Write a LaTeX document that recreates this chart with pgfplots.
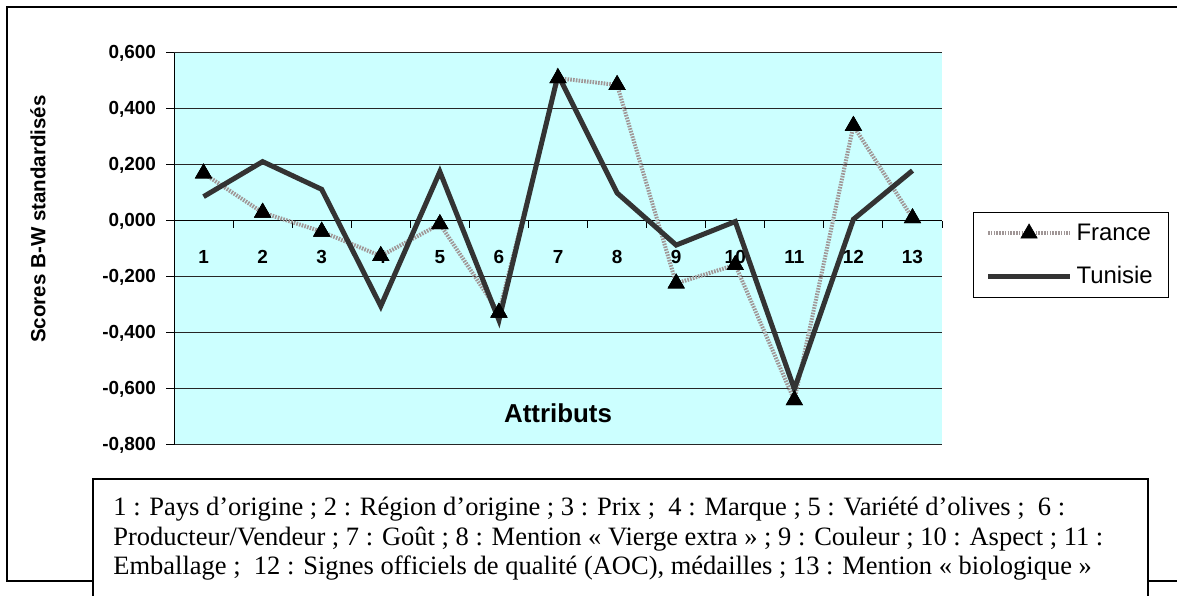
\documentclass[border=0pt]{standalone}
\usepackage{fontspec}
\setmainfont{Liberation Sans}
\newfontfamily\timesfont{Liberation Serif}
\usepackage{pgfplots}
\pgfplotsset{compat=1.18}
\definecolor{plotbg}{RGB}{204,255,255}
\definecolor{tun}{RGB}{51,51,51}
\definecolor{fra}{RGB}{160,150,150}
\begin{document}
\begin{tikzpicture}[x=0.5bp,y=0.5bp]
\path[use as bounding box] (0,0) rectangle (1177,595);
\draw[line width=0.75bp] (1177,588) -- (7,588) -- (7,14) -- (1177,14);
\node[rotate=90,font=\bfseries\fontsize{10.3}{12}\selectfont] at (38,376) {Scores B-W standardisés};
\begin{axis}[at={(87bp,75bp)}, anchor=south west, width=384bp, height=196bp, scale only axis,
 xmin=0.5, xmax=13.5, ymin=-0.8, ymax=0.6,
 axis x line=middle, axis y line=left,
 axis line style={-, black, line width=0.5bp},
 axis background/.style={fill=plotbg},
 tick align=outside,
 xtick={1,...,13},
 xticklabels={1,2,3,4,5,6,7,8,9,10,11,12,13},
 minor xtick={1.5,2.5,...,13.5},
 major x tick style={draw=none},
 minor x tick style={black, line width=0.5bp},
 minor tick length=3.5bp,
 major tick length=4bp,
 xticklabel style={font=\bfseries\fontsize{9.5}{11}\selectfont, yshift=-7bp},
 ytick={-0.8,-0.6,-0.4,-0.2,0,0.2,0.4,0.6},
 yticklabels={{-0,800},{-0,600},{-0,400},{-0,200},{0,000},{0,200},{0,400},{0,600}},
 yticklabel style={font=\bfseries\fontsize{9.5}{11}\selectfont, xshift=-1.5bp},
 ytick style={black, line width=0.5bp},
 ymajorgrids, grid style={black!85, line width=0.5bp},
 legend style={at={(1.0404,0.594)}, anchor=north west, draw=black, line width=0.5bp,
   font=\fontsize{12}{13}\selectfont, inner xsep=6bp, inner ysep=3.5bp, row sep=7.5bp},
 legend cell align=left,
 legend image code/.code={\draw[mark repeat=2,mark phase=2,#1] plot coordinates {(0bp,0bp) (20.5bp,0bp) (41bp,0bp)};},
 clip=false,
]
\addplot[fra, line width=2bp, dash pattern=on 0.8bp off 0.6bp, mark=triangle*, mark size=4.7bp,
  mark options={solid, fill=black, draw=black, line width=0.3bp}]
 coordinates {(1,0.170)(2,0.030)(3,-0.038)(4,-0.125)(5,-0.011)(6,-0.327)(7,0.510)(8,0.486)(9,-0.223)(10,-0.157)(11,-0.640)(12,0.340)(13,0.010)};
\addlegendentry{France}
\addplot[tun, line width=2.5bp, mark=none]
 coordinates {(1,0.087)(2,0.212)(3,0.113)(4,-0.304)(5,0.176)(6,-0.354)(7,0.522)(8,0.100)(9,-0.086)(10,-0.002)(11,-0.600)(12,0.006)(13,0.180)};
\addlegendentry{Tunisie}
\addplot[only marks, forget plot, mark=triangle*, mark size=4.7bp, mark options={fill=black, draw=black, line width=0.3bp}]
 coordinates {(1,0.170)(2,0.030)(3,-0.038)(4,-0.125)(5,-0.011)(6,-0.327)(7,0.510)(8,0.486)(9,-0.223)(10,-0.157)(11,-0.640)(12,0.340)(13,0.010)};
\node[font=\bfseries\fontsize{13}{15}\selectfont] at (axis cs:7,-0.686) {Attributs};
\end{axis}
\fill[white] (93,116) rectangle (1148,-5);
\draw[line width=1bp] (93,-5) -- (93,116) -- (1148,116) -- (1148,-5);
\begin{scope}[every node/.style={anchor=base west, inner sep=0pt, font=\timesfont\fontsize{13.3}{15}\selectfont}]
\node at (113,79) {1 : Pays d’origine ; 2 : Région d’origine ; 3 : Prix ; \ 4 : Marque ; 5 : Variété d’olives ; \ 6 :};
\node at (113,49) {Producteur/Vendeur ; 7 : Goût ; 8 : Mention «~Vierge extra~» ; 9 : Couleur ; 10 : Aspect ; 11 :};
\node at (113,20) {Emballage ; \ 12 : Signes officiels de qualité (AOC), médailles ; 13 : Mention «~biologique~»};
\end{scope}
\end{tikzpicture}
\end{document}
